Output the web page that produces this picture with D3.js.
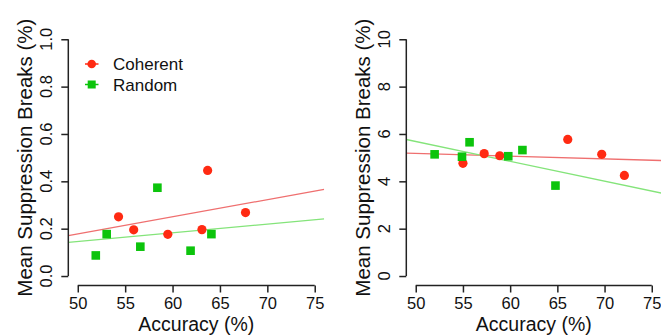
<!DOCTYPE html>
<html>
<head>
<meta charset="utf-8">
<script src="https://cdn.jsdelivr.net/npm/d3@7"></script>
<style>
  html, body { margin: 0; padding: 0; background: #fff; }
  svg { display: block; }
  text { font-family: "Liberation Sans", Arial, Helvetica, sans-serif; fill: #111; }
</style>
</head>
<body>
<svg id="chart" width="661" height="335"></svg>
<script>
// ---- data ----
const xTicks = [50, 55, 60, 65, 70, 75];
const leftYTicks = [0.0, 0.2, 0.4, 0.6, 0.8, 1.0];
const leftYTickLabels = ["0.0", "0.2", "0.4", "0.6", "0.8", "1.0"];
const rightYTicks = [0, 2, 4, 6, 8, 10];
const rightYTickLabels = ["0", "2", "4", "6", "8", "10"];

const seriesNames = ["Coherent", "Random"];

const leftAccCoherent = [54.3, 55.9, 59.5, 63.1, 63.7, 67.7];
const leftValCoherent = [0.25, 0.195, 0.176, 0.196, 0.446, 0.268];
const leftAccRandom   = [51.9, 53.05, 56.6, 58.4, 61.9, 64.1];
const leftValRandom   = [0.087, 0.177, 0.124, 0.373, 0.107, 0.177];

const rightAccCoherent = [55.0, 57.25, 58.9, 66.1, 69.7, 72.1];
const rightValCoherent = [4.76, 5.17, 5.08, 5.77, 5.14, 4.25];
const rightAccRandom   = [52.0, 54.9, 55.7, 59.8, 61.3, 64.8];
const rightValRandom   = [5.14, 5.04, 5.65, 5.06, 5.32, 3.82];

// ---- styles ----
const RED = "#ff2a12", GREEN = "#0cc40c";
const RED_LINE = "#ef6f6f", GREEN_LINE = "#84e47a";
const AXIS = "#222";

const svg = d3.select("#chart");

function lm(xs, ys) {
  const n = xs.length;
  const mx = d3.mean(xs), my = d3.mean(ys);
  let sxy = 0, sxx = 0;
  for (let i = 0; i < n; i++) { sxy += (xs[i]-mx)*(ys[i]-my); sxx += (xs[i]-mx)**2; }
  const b = sxy / sxx;
  return { a: my - b*mx, b };
}

function panel(opts) {
  const { left, right, top, bottom, yMax, yTicks, yTickLabels, series, legend, id } = opts;
  const xPad = (75 - 50) * 0.04, yPad = yMax * 0.04;
  const x = d3.scaleLinear().domain([50 - xPad, 75 + xPad]).range([left, right]);
  const y = d3.scaleLinear().domain([-yPad, yMax + yPad]).range([bottom, top]);

  const g = svg.append("g");
  const clipId = "clip" + id;
  svg.append("clipPath").attr("id", clipId).append("rect")
    .attr("x", left).attr("y", top).attr("width", right - left).attr("height", bottom - top);

  // regression lines
  const lines = g.append("g").attr("clip-path", `url(#${clipId})`);
  series.forEach(s => {
    const fit = lm(s.xs, s.ys);
    const d = x.domain();
    lines.append("line")
      .attr("x1", x(d[0])).attr("y1", y(fit.a + fit.b*d[0]))
      .attr("x2", x(d[1])).attr("y2", y(fit.a + fit.b*d[1]))
      .attr("stroke", s.lineColor).attr("stroke-width", 1.3);
  });

  // points
  series.forEach(s => {
    const pts = s.xs.map((v, i) => [v, s.ys[i]]);
    if (s.shape === "circle") {
      g.append("g").selectAll("circle").data(pts).join("circle")
        .attr("cx", d => x(d[0])).attr("cy", d => y(d[1])).attr("r", 4.6)
        .attr("fill", s.color);
    } else {
      const h = 4.3;
      g.append("g").selectAll("rect").data(pts).join("rect")
        .attr("x", d => x(d[0]) - h).attr("y", d => y(d[1]) - h)
        .attr("width", 2*h).attr("height", 2*h)
        .attr("fill", s.color);
    }
  });

  // x axis
  const xAxis = d3.axisBottom(x).tickValues(xTicks).tickSize(7).tickSizeOuter(0).tickFormat(d3.format("d"));
  const gx = g.append("g").attr("transform", `translate(0,${bottom})`).call(xAxis);
  gx.select(".domain").attr("d", `M${x(50)},0H${x(75)}`).attr("stroke", AXIS).attr("stroke-width", 1.5);
  gx.selectAll(".tick line").attr("stroke", AXIS).attr("stroke-width", 1.5);
  gx.selectAll(".tick text").attr("font-size", 16.5).attr("fill", "#111")
    .attr("y", 0).attr("dy", null).attr("transform", "translate(0,23.5)")
    .style("font-family", '"Liberation Sans", Arial, sans-serif');

  // y axis
  const yAxis = d3.axisLeft(y).tickValues(yTicks).tickSize(7).tickSizeOuter(0).tickFormat("");
  const gy = g.append("g").attr("transform", `translate(${left},0)`).call(yAxis);
  gy.select(".domain").attr("d", `M0,${y(0)}V${y(yMax)}`).attr("stroke", AXIS).attr("stroke-width", 1.5);
  gy.selectAll(".tick line").attr("stroke", AXIS).attr("stroke-width", 1.5);
  g.append("g").selectAll("text").data(yTicks).join("text")
    .attr("transform", (d) => `translate(${left - 16},${y(d)}) rotate(-90)`)
    .attr("text-anchor", "middle").attr("font-size", 16.5)
    .text((d, i) => yTickLabels[i]);

  // titles
  g.append("text").attr("x", (left + right) / 2).attr("y", 330.5)
    .attr("text-anchor", "middle").attr("font-size", 19.5).text("Accuracy (%)");
  g.append("text")
    .attr("transform", `translate(${left - 36},${(top + bottom) / 2}) rotate(-90)`)
    .attr("text-anchor", "middle").attr("font-size", 20.5).text("Mean Suppression Breaks (%)");

  if (legend) {
    const lg = g.append("g");
    const rows = [
      { name: seriesNames[0], color: RED, lineColor: RED_LINE, shape: "circle", yy: 64 },
      { name: seriesNames[1], color: GREEN, lineColor: GREEN_LINE, shape: "square", yy: 84.5 }
    ];
    rows.forEach(r => {
      lg.append("line").attr("x1", 85).attr("x2", 98.5).attr("y1", r.yy).attr("y2", r.yy)
        .attr("stroke", r.color).attr("stroke-width", 1.5);
      if (r.shape === "circle") {
        lg.append("circle").attr("cx", 91.7).attr("cy", r.yy).attr("r", 4.3).attr("fill", r.color);
      } else {
        lg.append("rect").attr("x", 91.7 - 4).attr("y", r.yy - 4).attr("width", 8).attr("height", 8).attr("fill", r.color);
      }
      lg.append("text").attr("x", 113).attr("y", r.yy + 6).attr("font-size", 17).text(r.name);
    });
  }
}

panel({
  id: "L", left: 68.3, right: 324.2, top: 29.8, bottom: 285.5,
  yMax: 1.0, yTicks: leftYTicks, yTickLabels: leftYTickLabels, legend: true,
  series: [
    { xs: leftAccCoherent, ys: leftValCoherent, color: RED, lineColor: RED_LINE, shape: "circle" },
    { xs: leftAccRandom, ys: leftValRandom, color: GREEN, lineColor: GREEN_LINE, shape: "square" }
  ]
});

panel({
  id: "R", left: 406.3, right: 661.2, top: 29.8, bottom: 285.5,
  yMax: 10, yTicks: rightYTicks, yTickLabels: rightYTickLabels, legend: false,
  series: [
    { xs: rightAccCoherent, ys: rightValCoherent, color: RED, lineColor: RED_LINE, shape: "circle" },
    { xs: rightAccRandom, ys: rightValRandom, color: GREEN, lineColor: GREEN_LINE, shape: "square" }
  ]
});
</script>
</body>
</html>
